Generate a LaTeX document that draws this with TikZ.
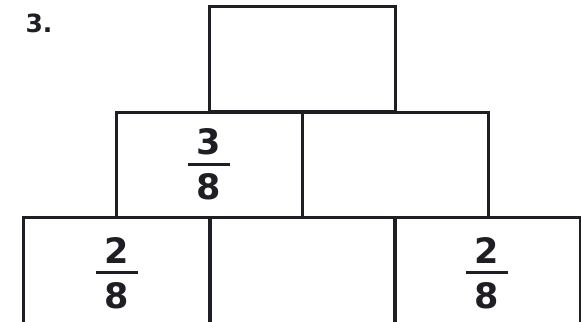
\documentclass[tikz,border=0pt]{standalone}
\usepackage{fontspec}
\setmainfont{DejaVu Sans}
\usepackage{tikz}
\definecolor{Ink}{HTML}{1E1E24}
% stacked fraction with a heavy bar
\newcommand\fracpair[2]{\vbox{\hbox to 42bp{\hss#1\hss}\kern8bp
  \hrule height 3bp\kern8bp\hbox to 42bp{\hss#2\hss}}}

\begin{document}
\begin{tikzpicture}[x=1bp, y=-1bp,
  cell/.style={draw=Ink, line width=3bp, minimum width=186bp,
    minimum height=105bp, inner sep=0pt,
    font=\fontsize{35bp}{40bp}\selectfont\bfseries, text=Ink},
  lowcell/.style={cell, minimum height=112bp}]
  \useasboundingbox (0,0) rectangle (581,321);
  % pyramid of cells, row by row
  \node[cell] (top)  at (302,59)    {};
  \node[cell] (midL) at (209,164.5) {\fracpair{3}{8}};
  \node[cell] (midR) at (395,164.5) {};
  \node[lowcell] (botL) at (117,273) {\fracpair{2}{8}};
  \node[lowcell] (botM) at (302,273) {};
  \node[lowcell] (botR) at (487,273) {\fracpair{2}{8}};
  % exercise number
  \node[font=\fontsize{25bp}{30bp}\selectfont\bfseries, text=Ink] (num) at (39,23) {3.};
\end{tikzpicture}
\end{document}
